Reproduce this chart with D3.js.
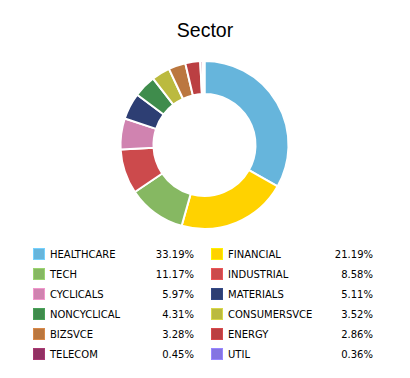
<!DOCTYPE html>
<html>
<head>
<meta charset="utf-8">
<script src="https://cdn.jsdelivr.net/npm/d3@7.9.0/dist/d3.min.js"></script>
<style>
  html, body { margin: 0; padding: 0; background: #fff; }
  svg { display: block; }
</style>
</head>
<body>
<div id="chart"></div>
<script>
// --- data ---
const sectors = ["HEALTHCARE", "FINANCIAL", "TECH", "INDUSTRIAL", "CYCLICALS", "MATERIALS",
  "NONCYCLICAL", "CONSUMERSVCE", "BIZSVCE", "ENERGY", "TELECOM", "UTIL"];
const weights = [33.19, 21.19, 11.17, 8.58, 5.97, 5.11, 4.31, 3.52, 3.28, 2.86, 0.45, 0.36];
const colors = ["#66b5dc", "#ffd200", "#86b862", "#cc4a4c", "#d083b0", "#2d3e73",
  "#3f8c4c", "#bbba3f", "#bb773f", "#bb3f42", "#923163", "#8474e2"];

const width = 410, height = 378;
const cx = 204.5, cy = 145;
const outerR = 84, innerR = 51;

const svg = d3.select("#chart").append("svg")
  .attr("width", width).attr("height", height);

// title
svg.append("text")
  .attr("x", 205).attr("y", 37)
  .attr("text-anchor", "middle")
  .attr("font-family", "Liberation Sans, Arial, sans-serif")
  .attr("font-size", "19.5px")
  .attr("fill", "#000")
  .text("Sector");

// --- donut ---
const data = sectors.map((s, i) => ({ name: s, value: weights[i], color: colors[i] }));
const pie = d3.pie().value(d => d.value).sort(null);
const arc = d3.arc().innerRadius(innerR).outerRadius(outerR);

svg.append("g")
  .attr("transform", `translate(${cx},${cy})`)
  .selectAll("path")
  .data(pie(data))
  .join("path")
  .attr("d", arc)
  .attr("fill", d => d.data.color)
  .attr("stroke", "#fff")
  .attr("stroke-width", 2)
  .attr("stroke-linejoin", "round");

// --- legend (two columns, row-major) ---
const fmt = d => d.toFixed(2) + "%";
const cols = [{ sw: 33, label: 50, pct: 194 }, { sw: 211, label: 228, pct: 373 }];
const rowY = d3.scaleLinear().domain([0, 1]).range([254, 274]);

const legend = svg.append("g")
  .attr("font-family", "DejaVu Sans, Verdana, sans-serif")
  .attr("font-size", "10px")
  .attr("fill", "#000");

data.forEach((d, i) => {
  const c = cols[i % 2];
  const y = rowY(Math.floor(i / 2));
  legend.append("rect")
    .attr("x", c.sw + 0.5).attr("y", y - 5.5)
    .attr("width", 11).attr("height", 11)
    .attr("fill", d.color)
    .attr("stroke", d3.color(d.color).brighter(0.4))
    .attr("stroke-width", 1);
  legend.append("text")
    .attr("x", c.label).attr("y", y)
    .attr("dy", "0.36em")
    .text(d.name);
  legend.append("text")
    .attr("x", c.pct).attr("y", y)
    .attr("dy", "0.36em")
    .attr("text-anchor", "end")
    .text(fmt(d.value));
});
</script>
</body>
</html>
